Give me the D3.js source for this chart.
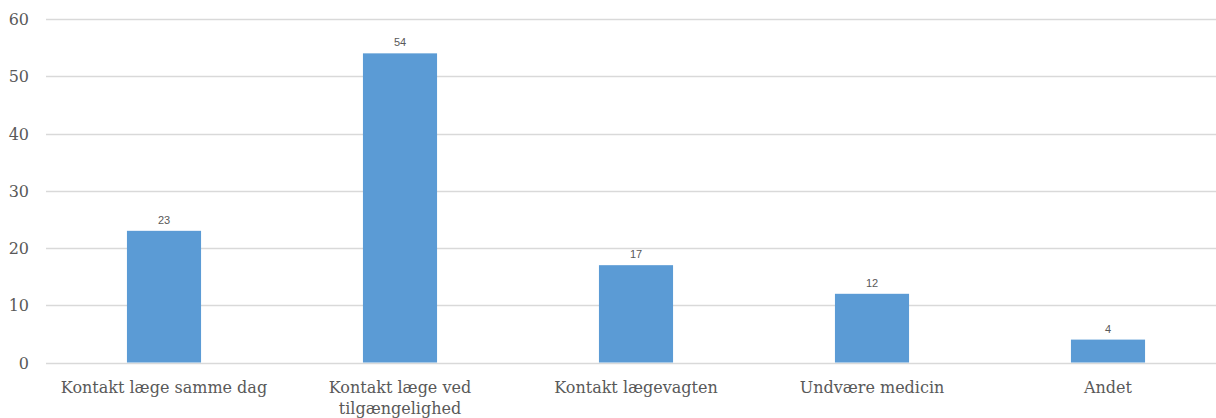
<!DOCTYPE html>
<html>
<head>
<meta charset="utf-8">
<script src="https://cdn.jsdelivr.net/npm/d3@7"></script>
<style>
  body { margin: 0; background: #fff; }
  text { fill: #595959; }
</style>
</head>
<body>
<div id="chart"></div>
<script>
var categories = [
    ['Kontakt læge samme dag'],
    ['Kontakt læge ved', 'tilgængelighed'],
    ['Kontakt lægevagten'],
    ['Undvære medicin'],
    ['Andet']
];
var values = [23, 54, 17, 12, 4];
var y_ticks = [0, 10, 20, 30, 40, 50, 60];

var width = 1216, height = 418;
var margin = { top: 19, left: 46, right: -10, bottom: 55 };
var serif = '"DejaVu Serif", serif';

var svg = d3.select('#chart')
    .append('svg')
    .attr('width', width)
    .attr('height', height);

var x = d3.scaleBand()
    .domain(d3.range(categories.length))
    .range([margin.left, width - margin.right])
    .paddingInner(0.686)
    .paddingOuter(0.343);

var y = d3.scaleLinear()
    .domain([0, 60])
    .range([height - margin.bottom - 0.5, margin.top]);

// gridlines
svg.append('g')
    .selectAll('line')
    .data(y_ticks)
    .enter()
    .append('line')
    .attr('x1', margin.left)
    .attr('x2', width)
    .attr('y1', function(d) { return Math.round(y(d)) + 0.5; })
    .attr('y2', function(d) { return Math.round(y(d)) + 0.5; })
    .attr('stroke', '#d9d9d9')
    .attr('stroke-width', 1.3);

// y tick labels
svg.append('g')
    .selectAll('text')
    .data(y_ticks)
    .enter()
    .append('text')
    .attr('x', 29)
    .attr('y', function(d) { return y(d) + 6; })
    .attr('text-anchor', 'end')
    .style('font-family', serif)
    .style('font-size', '16px')
    .text(function(d) { return d; });

// bars
svg.append('g')
    .selectAll('rect')
    .data(values)
    .enter()
    .append('rect')
    .attr('x', function(d, i) { return x(i); })
    .attr('width', x.bandwidth())
    .attr('y', function(d) { return y(d); })
    .attr('height', function(d) { return y(0) - y(d); })
    .attr('fill', '#5b9bd5');

// value labels
svg.append('g')
    .selectAll('text')
    .data(values)
    .enter()
    .append('text')
    .attr('x', function(d, i) { return x(i) + x.bandwidth() / 2; })
    .attr('y', function(d) { return y(d) - 7; })
    .attr('text-anchor', 'middle')
    .style('font-family', '"Liberation Sans", Arial, sans-serif')
    .style('font-size', '11px')
    .text(function(d) { return d; });

// category labels
var cat = svg.append('g')
    .selectAll('text')
    .data(categories)
    .enter()
    .append('text')
    .attr('text-anchor', 'middle')
    .style('font-family', serif)
    .style('font-size', '16px');

cat.each(function(lines, i) {
    var t = d3.select(this);
    lines.forEach(function(line, j) {
        t.append('tspan')
            .attr('x', x(i) + x.bandwidth() / 2)
            .attr('y', y(0) + 30 + j * 21)
            .text(line);
    });
});
</script>
</body>
</html>
